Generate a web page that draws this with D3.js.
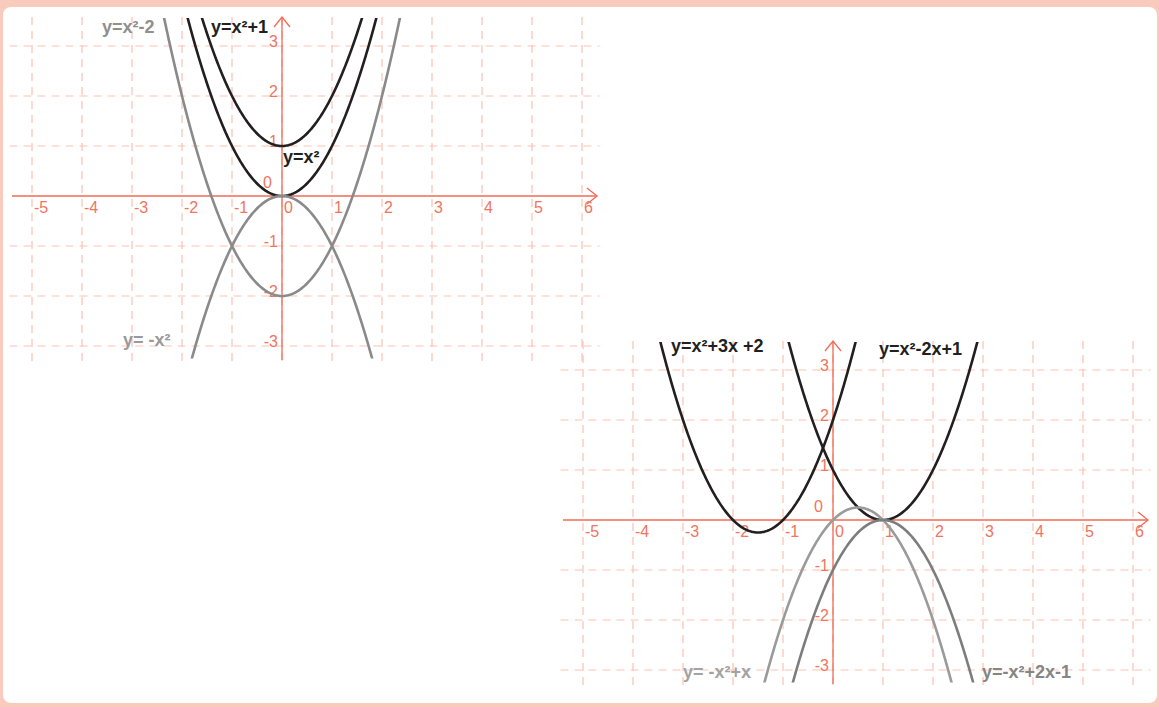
<!DOCTYPE html>
<html>
<head>
<meta charset="utf-8">
<script src="https://cdn.jsdelivr.net/npm/d3@7"></script>
<style>
  body { margin: 0; background: #f9cbbd; }
  svg { display: block; }
  .tick-label { font-family: 'Liberation Sans', Arial, sans-serif; font-size: 16px; fill: #f07560; }
  .curve-label { font-family: 'Liberation Sans', Arial, sans-serif; font-size: 18px; font-weight: bold; }
</style>
</head>
<body>
<div id="chart"></div>
<script>
// tick values shared by both plots
const xTicks = [-5, -4, -3, -2, -1, 0, 1, 2, 3, 4, 5, 6];
const yTicks = [-3, -2, -1, 1, 2, 3];

// plot A: shifts and reflection of y=x^2  ([a, b, c] for ax^2+bx+c)
const namesA = ['y=x²-2', 'y=x²+1', 'y=x²', 'y= -x²'];
const coefsA = [[1, 0, -2], [1, 0, 1], [1, 0, 0], [-1, 0, 0]];

// plot B
const namesB = ['y=x²+3x +2', 'y=x²-2x+1', 'y= -x²+x', 'y=-x²+2x-1'];
const coefsB = [[1, 3, 2], [1, -2, 1], [-1, 1, 0], [-1, 2, -1]];

// layout / style
const W = 1159, H = 707, unit = 50;
const view = { x0: -5.45, x1: 6.35, y0: -3.4, y1: 3.58, axisX0: -5.4, axisX1: 6.3, axisY0: -3.28, clipY0: -3.25, clipY1: 3.56 };

const panelA = {
  ox: 282, oy: 196,
  names: namesA, coefs: coefsA,
  colors: ['#8a8a8a', '#231f20', '#231f20', '#8a8a8a'],
  labelColors: ['#8f8f8f', '#231f20', '#231f20', '#9a9a9a'],
  labelPos: [[-3.6, 3.26], [-1.42, 3.26], [0.02, 0.66], [-3.18, -3.0]]
};
const panelB = {
  ox: 833, oy: 520,
  names: namesB, coefs: coefsB,
  colors: ['#231f20', '#231f20', '#9a9a9a', '#7d7d7d'],
  labelColors: ['#231f20', '#231f20', '#a3a3a3', '#858585'],
  labelPos: [[-3.24, 3.36], [0.92, 3.3], [-3.0, -3.16], [2.98, -3.16]]
};

const svg = d3.select('#chart')
  .append('svg')
  .attr('width', W)
  .attr('height', H);

// white card
svg.append('rect')
  .attr('x', 3).attr('y', 7)
  .attr('width', W - 5).attr('height', H - 11)
  .attr('rx', 8)
  .attr('fill', '#ffffff');

const drawPanel = (p, idx) => {
  const x = d3.scaleLinear().domain([0, 1]).range([p.ox, p.ox + unit]);
  const y = d3.scaleLinear().domain([0, 1]).range([p.oy, p.oy - unit]);
  const g = svg.append('g');

  // dashed grid
  g.selectAll('.vgrid')
    .data(xTicks)
    .join('line')
    .attr('x1', d => x(d)).attr('x2', d => x(d))
    .attr('y1', y(view.y1)).attr('y2', y(view.y0))
    .attr('stroke', '#fcc2b2')
    .attr('stroke-width', 1.2)
    .attr('stroke-dasharray', '8,6');

  g.selectAll('.hgrid')
    .data(yTicks)
    .join('line')
    .attr('x1', x(view.x0)).attr('x2', x(view.x1))
    .attr('y1', d => y(d)).attr('y2', d => y(d))
    .attr('stroke', '#fcc2b2')
    .attr('stroke-width', 1.2)
    .attr('stroke-dasharray', '8,6');

  // axes with open arrowheads
  const axisColor = '#f26a55';
  g.append('line')
    .attr('x1', x(view.axisX0)).attr('x2', x(view.axisX1))
    .attr('y1', y(0)).attr('y2', y(0))
    .attr('stroke', axisColor).attr('stroke-width', 1.3);
  g.append('path')
    .attr('d', `M${x(view.axisX1) - 10},${y(0) - 8}L${x(view.axisX1)},${y(0)}L${x(view.axisX1) - 10},${y(0) + 8}`)
    .attr('fill', 'none').attr('stroke', axisColor).attr('stroke-width', 1.3);

  g.append('line')
    .attr('x1', x(0)).attr('x2', x(0))
    .attr('y1', y(view.axisY0)).attr('y2', y(view.y1))
    .attr('stroke', axisColor).attr('stroke-width', 1.3);
  g.append('path')
    .attr('d', `M${x(0) - 8},${y(view.y1) + 10}L${x(0)},${y(view.y1)}L${x(0) + 8},${y(view.y1) + 10}`)
    .attr('fill', 'none').attr('stroke', axisColor).attr('stroke-width', 1.3);

  // tick labels
  g.selectAll('.xlab')
    .data(xTicks)
    .join('text')
    .attr('class', 'tick-label')
    .attr('x', d => x(d) + 2)
    .attr('y', y(0) + 17)
    .text(d => d);

  g.selectAll('.ylab')
    .data(yTicks)
    .join('text')
    .attr('class', 'tick-label')
    .attr('text-anchor', 'end')
    .attr('x', x(0) - 4)
    .attr('y', d => y(d) + 1)
    .text(d => d);

  g.append('text')
    .attr('class', 'tick-label')
    .attr('text-anchor', 'end')
    .attr('x', x(0) - 10)
    .attr('y', y(0) - 8)
    .text('0');

  // curves, clipped to the plot height
  const clipId = 'clip' + idx;
  svg.append('clipPath')
    .attr('id', clipId)
    .append('rect')
    .attr('x', x(view.x0)).attr('width', x(view.x1) - x(view.x0))
    .attr('y', y(view.clipY1)).attr('height', y(view.clipY0) - y(view.clipY1));

  const xs = d3.range(view.x0, view.x1, 0.02);
  const line = d3.line().x(d => x(d[0])).y(d => y(d[1]));

  g.append('g')
    .attr('clip-path', `url(#${clipId})`)
    .selectAll('path')
    .data(p.coefs)
    .join('path')
    .attr('d', c => line(xs.map(v => [v, c[0] * v * v + c[1] * v + c[2]])))
    .attr('fill', 'none')
    .attr('stroke', (c, i) => p.colors[i])
    .attr('stroke-width', 2.6);

  // curve labels
  g.selectAll('.clab')
    .data(p.names)
    .join('text')
    .attr('class', 'curve-label')
    .attr('x', (d, i) => x(p.labelPos[i][0]))
    .attr('y', (d, i) => y(p.labelPos[i][1]))
    .attr('fill', (d, i) => p.labelColors[i])
    .text(d => d);
};

drawPanel(panelA, 0);
drawPanel(panelB, 1);
</script>
</body>
</html>
